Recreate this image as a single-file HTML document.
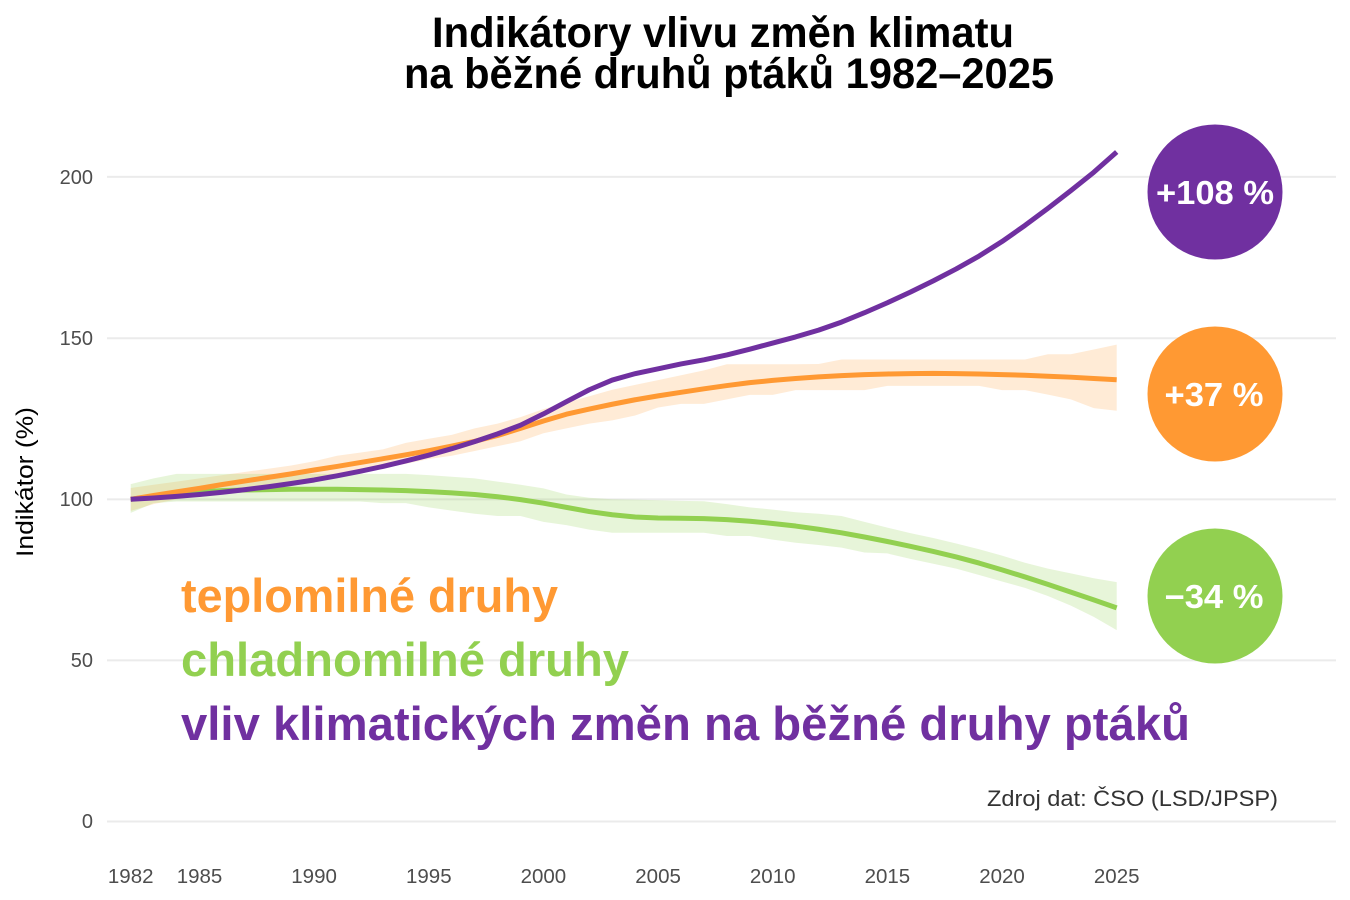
<!DOCTYPE html>
<html>
<head>
<meta charset="utf-8">
<style>
  html, body { margin:0; padding:0; background:#ffffff; }
  body { width:1350px; height:900px; overflow:hidden; }
  svg { display:block; }
  text { font-family: "Liberation Sans", Arial, sans-serif; }
</style>
</head>
<body>
<svg width="1350" height="900" viewBox="0 0 1350 900" xmlns="http://www.w3.org/2000/svg">
  <rect x="0" y="0" width="1350" height="900" fill="#ffffff"/>

  <!-- Title -->
  <text x="723" y="47" text-anchor="middle" font-size="43" font-weight="bold" fill="#000" textLength="582" lengthAdjust="spacingAndGlyphs">Indikátory vlivu změn klimatu</text>
  <text x="729" y="88" text-anchor="middle" font-size="43" font-weight="bold" fill="#000" textLength="650" lengthAdjust="spacingAndGlyphs">na běžné druhů ptáků 1982–2025</text>

  <!-- Gridlines -->
  <g stroke="#ebebeb" stroke-width="2">
    <line x1="107" y1="176.9" x2="1336" y2="176.9"/>
    <line x1="107" y1="338.2" x2="1336" y2="338.2"/>
    <line x1="107" y1="499.4" x2="1336" y2="499.4"/>
    <line x1="107" y1="660.4" x2="1336" y2="660.4"/>
    <line x1="107" y1="821.5" x2="1336" y2="821.5"/>
  </g>

  <!-- Y tick labels -->
  <g font-size="20" fill="#4d4d4d" text-anchor="end">
    <text x="93" y="184">200</text>
    <text x="93" y="345">150</text>
    <text x="93" y="506">100</text>
    <text x="93" y="667">50</text>
    <text x="93" y="828">0</text>
  </g>

  <!-- Y axis title -->
  <text transform="translate(33,482) rotate(-90)" text-anchor="middle" font-size="24" fill="#000" textLength="150" lengthAdjust="spacingAndGlyphs">Indikátor (%)</text>

  <!-- X tick labels -->
  <g font-size="20.5" fill="#4d4d4d" text-anchor="middle">
    <text x="130.7" y="883">1982</text>
    <text x="199.5" y="883">1985</text>
    <text x="314.1" y="883">1990</text>
    <text x="428.8" y="883">1995</text>
    <text x="543.4" y="883">2000</text>
    <text x="658.1" y="883">2005</text>
    <text x="772.7" y="883">2010</text>
    <text x="887.4" y="883">2015</text>
    <text x="1002" y="883">2020</text>
    <text x="1116.7" y="883">2025</text>
  </g>

  <!-- Data -->
  <g transform="translate(130.7,821.5) scale(22.93,-3.222)">
    <polygon fill="#ff9933" fill-opacity="0.2" points="0,103.5 1,104.5 2,105.5 3,106.5 4,107.5 5,108.5 6,109.5 7,110.5 8,111.8 9,113.5 10,114.5 11,115.5 12,117.5 13,118.8 14,120 15,122 16,123.5 17,125.5 18,128 19,130 20,132 21,134 22,135.5 23,137 24,138.5 25,140 26,141.9 27,141.9 28,141.9 29,141.9 30,142 31,143.4 32,143.4 33,143.4 34,143.4 35,143.4 36,143.4 37,143.4 38,143.4 39,143.4 40,145 41,145 42,146.5 43,148 43,127.5 42,128.3 41,131 40,132.5 39,133.9 38,133.9 37,135.2 36,135.2 35,135.2 34,135.2 33,135.2 32,133.9 31,133.9 30,133.9 29,133.9 28,132.4 27,132.4 26,131 25,129.6 24,129.6 23,128.5 22,126 21,124.5 20,123.5 19,122 18,120.5 17,118 16,116.5 15,115 14,113.5 13,112.5 12,111 11,110 10,109 9,107.5 8,106.5 7,105 6,104 5,103 4,102 3,101 2,100 1,98.5 0,96.4"/>
    <polygon fill="#92d050" fill-opacity="0.22" points="0,104.7 1,106.5 2,107.9 3,107.9 4,107.9 5,107.9 6,107.9 7,107.9 8,107.9 9,107.9 10,107.9 11,107.9 12,107.9 13,107.5 14,107 15,106.5 16,105.5 17,104.5 18,103.4 19,101.5 20,100.5 21,100 22,99.9 23,99.7 24,99.5 25,99.4 26,98.5 27,97.5 28,96.8 29,96 30,95.5 31,94.8 32,93 33,91.2 34,89.5 35,88 36,86.3 37,84.5 38,82.5 39,80.3 40,78.5 41,77 42,75.5 43,74.3 43,59.4 42,63.5 41,67 40,70 39,72.5 38,74.5 37,76.5 36,78.5 35,80 34,81.5 33,83.2 32,83.5 31,85 30,85.8 29,86.5 28,87.5 27,88.6 26,88.6 25,89.6 24,89.6 23,89.6 22,89.6 21,89.6 20,90.6 19,92 18,93 17,94.8 16,94.8 15,95.5 14,96.5 13,97.5 12,98.8 11,98.8 10,99.3 9,99.3 8,99.3 7,99.3 6,99.3 5,99.3 4,99.3 3,99.3 2,99.3 1,98.8 0,95.8"/>

    <polyline fill="none" stroke="#92d050" stroke-width="5" stroke-linejoin="round" vector-effect="non-scaling-stroke" points="0,100 1,101 2,101.8 3,102.3 4,102.7 5,102.9 6,103 7,103.1 8,103.1 9,103.1 10,103 11,102.9 12,102.7 13,102.4 14,102 15,101.5 16,100.8 17,99.9 18,98.8 19,97.5 20,96.2 21,95.2 22,94.5 23,94.2 24,94.1 25,94 26,93.7 27,93.2 28,92.5 29,91.7 30,90.7 31,89.6 32,88.3 33,86.9 34,85.4 35,83.8 36,82.1 37,80.2 38,78.1 39,75.9 40,73.6 41,71.2 42,68.8 43,66.3"/>
    <polyline fill="none" stroke="#ff9933" stroke-width="5" stroke-linejoin="round" vector-effect="non-scaling-stroke" points="0,100 1,101.2 2,102.3 3,103.4 4,104.6 5,105.7 6,106.8 7,107.9 8,109.1 9,110.2 10,111.4 11,112.6 12,113.8 13,115.1 14,116.5 15,118 16,119.8 17,122 18,124.3 19,126.4 20,128 21,129.5 22,130.9 23,132.1 24,133.2 25,134.3 26,135.3 27,136.2 28,136.9 29,137.5 30,138 31,138.4 32,138.7 33,138.9 34,139 35,139.1 36,139 37,138.9 38,138.7 39,138.5 40,138.2 41,137.9 42,137.5 43,137.1"/>
    <polyline fill="none" stroke="#7030a0" stroke-width="5" stroke-linejoin="round" vector-effect="non-scaling-stroke" points="0,100 1,100.4 2,100.9 3,101.5 4,102.2 5,103 6,103.9 7,104.9 8,106 9,107.3 10,108.7 11,110.2 12,111.9 13,113.7 14,115.7 15,117.9 16,120.3 17,123 18,126.5 19,130.3 20,134 21,137 22,139 23,140.5 24,142 25,143.3 26,144.8 27,146.6 28,148.5 29,150.4 30,152.5 31,155 32,157.9 33,161 34,164.3 35,167.8 36,171.5 37,175.5 38,180 39,185 40,190.3 41,195.8 42,201.5 43,207.8"/>
  </g>

  <!-- Circles -->
  <circle cx="1215" cy="192" r="67.5" fill="#7030a0"/>
  <circle cx="1215" cy="394" r="67.5" fill="#ff9933"/>
  <circle cx="1215" cy="596" r="67.5" fill="#92d050"/>
  <g font-size="33" font-weight="bold" fill="#ffffff" text-anchor="middle">
    <text x="1215" y="204" textLength="118" lengthAdjust="spacingAndGlyphs">+108 %</text>
    <text x="1214" y="406" textLength="99" lengthAdjust="spacingAndGlyphs">+37 %</text>
    <text x="1214" y="608" textLength="99" lengthAdjust="spacingAndGlyphs">−34 %</text>
  </g>

  <!-- Legend labels -->
  <g font-size="47" font-weight="bold">
    <text x="181" y="612" fill="#ff9933" textLength="377" lengthAdjust="spacingAndGlyphs">teplomilné druhy</text>
    <text x="181" y="676" fill="#92d050" textLength="448" lengthAdjust="spacingAndGlyphs">chladnomilné druhy</text>
    <text x="181" y="740" fill="#7030a0" textLength="1009" lengthAdjust="spacingAndGlyphs">vliv klimatických změn na běžné druhy ptáků</text>
  </g>

  <!-- Source -->
  <text x="987" y="806" font-size="22" fill="#333333" textLength="291" lengthAdjust="spacingAndGlyphs">Zdroj dat: ČSO (LSD/JPSP)</text>
</svg>
</body>
</html>
